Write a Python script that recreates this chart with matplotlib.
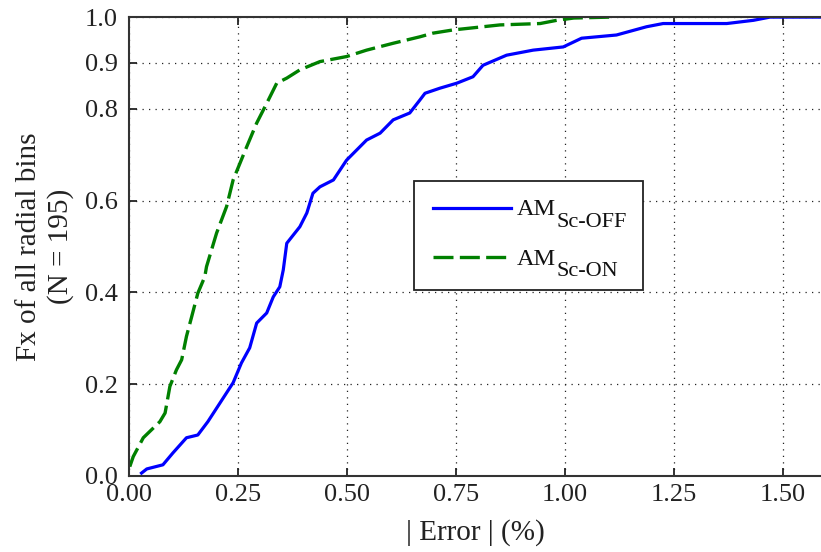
import numpy as np
import matplotlib.pyplot as plt

plt.rcParams['font.family'] = ['Liberation Serif', 'DejaVu Serif']

# CDF of |error| (%)
off_x = [0.029, 0.041, 0.078, 0.101, 0.132, 0.158, 0.181, 0.209, 0.239, 0.258,
         0.277, 0.293, 0.316, 0.331, 0.346, 0.354, 0.362, 0.392, 0.408, 0.422,
         0.438, 0.469, 0.499, 0.545, 0.576, 0.606, 0.644, 0.667, 0.679, 0.713,
         0.752, 0.789, 0.812, 0.866, 0.927, 0.996, 1.038, 1.118, 1.187, 1.225,
         1.371, 1.432, 1.47, 1.6]
off_y = [0.006, 0.015, 0.024, 0.05, 0.083, 0.089, 0.118, 0.159, 0.203, 0.246,
         0.279, 0.333, 0.355, 0.390, 0.412, 0.449, 0.507, 0.543, 0.573, 0.616,
         0.630, 0.645, 0.688, 0.732, 0.747, 0.776, 0.791, 0.819, 0.834, 0.845,
         0.856, 0.870, 0.895, 0.917, 0.928, 0.935, 0.954, 0.961, 0.979, 0.986,
         0.986, 0.993, 1.0, 1.0]

on_x = [0.002, 0.01, 0.033, 0.071, 0.083, 0.094, 0.109, 0.121, 0.132, 0.144,
        0.158, 0.174, 0.178, 0.201, 0.224, 0.239, 0.27, 0.293, 0.316, 0.339,
        0.362, 0.392, 0.438, 0.499, 0.545, 0.606, 0.667, 0.697, 0.743, 0.851,
        0.943, 0.981, 1.02, 1.103]
on_y = [0.020, 0.042, 0.083, 0.118, 0.137, 0.195, 0.231, 0.253, 0.304, 0.347,
        0.398, 0.434, 0.456, 0.529, 0.587, 0.645, 0.717, 0.769, 0.812, 0.856,
        0.867, 0.885, 0.903, 0.914, 0.928, 0.943, 0.957, 0.965, 0.972, 0.983,
        0.986, 0.993, 0.998, 1.0]

names = ['AM', 'AM']
subs = ['Sc-OFF', 'Sc-ON']

xticks = [0.0, 0.25, 0.5, 0.75, 1.0, 1.25, 1.5]
yticks = [0.0, 0.2, 0.4, 0.6, 0.8, 0.9, 1.0]

fig = plt.figure(figsize=(8.21, 5.52), dpi=100)
ax = fig.add_axes([0.157, 0.138, 0.843, 0.831])

ax.plot(off_x, off_y, color='#0000ff', lw=2.3, label=names[0] + subs[0])
ax.plot(on_x, on_y, color='#008000', lw=2.4, dashes=(6.0, 1.9),
        label=names[1] + subs[1])

ax.set_xlim(0, 1.587)
ax.set_ylim(0, 1.0)
ax.set_xticks(xticks)
ax.set_xticklabels(['%.2f' % t for t in xticks])
ax.set_yticks(yticks)
ax.set_yticklabels(['%.1f' % t for t in yticks])
ax.tick_params(direction='in', length=6, width=1.3, labelsize=19, colors='#222222',
               top=True, right=False)
ax.tick_params(axis='x', pad=6)
ax.tick_params(axis='y', pad=8)
for s in ['left', 'bottom', 'top']:
    ax.spines[s].set_linewidth(1.5)
    ax.spines[s].set_color('#333333')
ax.spines['right'].set_visible(False)

ax.grid(True, color='#222222', lw=0.9, dashes=(1, 4.2))

ax.set_xlabel('| Error | (%)', fontsize=21, color='#222222', labelpad=9)
ax.set_ylabel('Fx of all radial bins\n(N = 195)', fontsize=21, color='#222222',
              linespacing=1.25, labelpad=8)

leg = ax.legend(loc='upper left', bbox_to_anchor=(0.412, 0.643), fontsize=16,
                handlelength=3.5, frameon=True, fancybox=False, borderpad=0.87,
                labelspacing=1.3, handletextpad=0.27, borderaxespad=0)
leg.get_frame().set_edgecolor('#222222')
leg.get_frame().set_linewidth(1.3)
leg.get_frame().set_alpha(1)

# legend labels: full-size subscript, drawn over the (hidden) legend text
for t in leg.get_texts():
    t.set_alpha(0)
fig.canvas.draw()
r = fig.canvas.get_renderer()
W, H = fig.bbox.width, fig.bbox.height
for t, h, name, sub in zip(leg.get_texts(), leg.legend_handles, names, subs):
    bb = t.get_window_extent(r)
    lb = h.get_window_extent(r)
    ly = (lb.y0 + lb.y1) / 2
    a = fig.text(bb.x0 / W, (ly - 7.5) / H, name, fontsize=17.5, color='#111111',
                 va='baseline', ha='left')
    ab = a.get_window_extent(r)
    fig.text(ab.x1 / W, (ly - 19) / H, sub, fontsize=16, color='#111111',
             va='baseline', ha='left')

fig.savefig('out.png', dpi=100)
